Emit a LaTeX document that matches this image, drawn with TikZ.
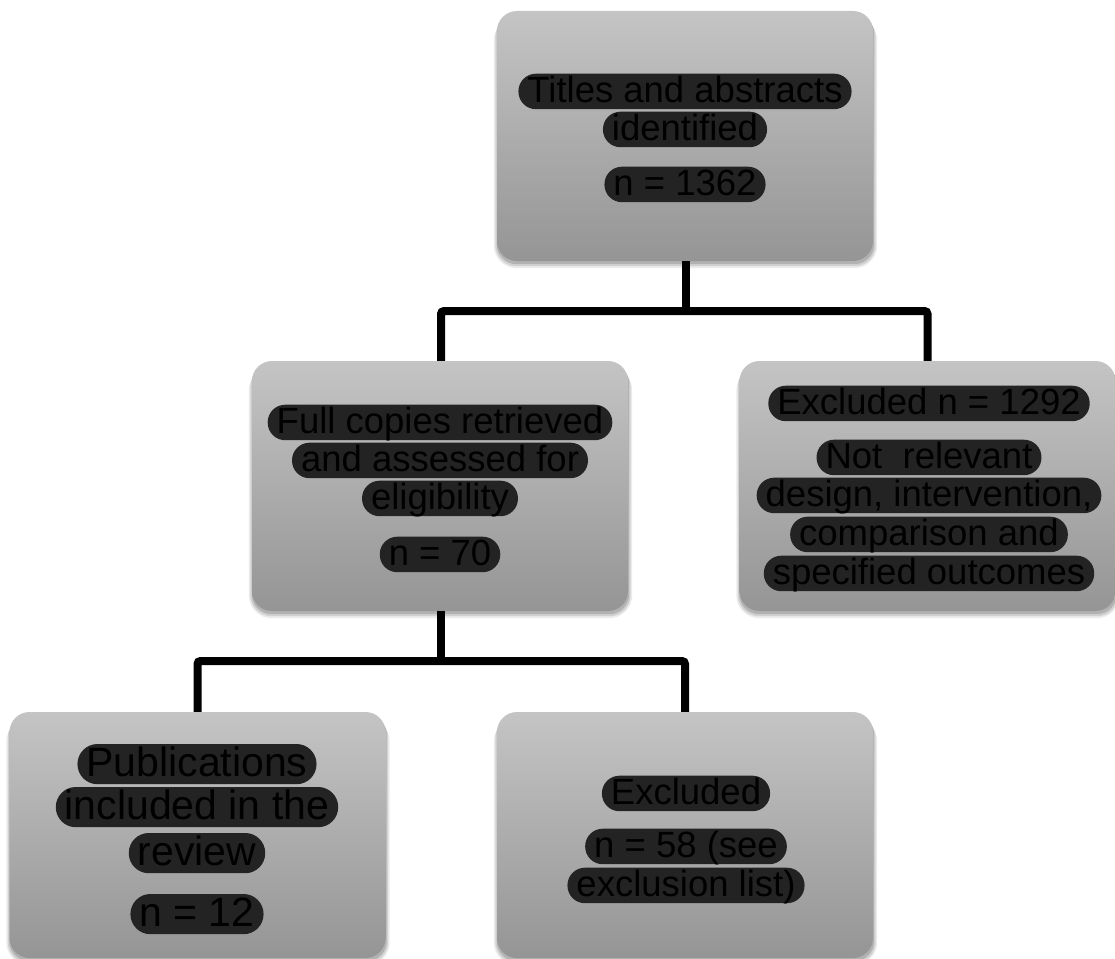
\documentclass[tikz,border=0pt]{standalone}
\usepackage{fontspec}
\setmainfont{Liberation Sans}
\pgfdeclarelayer{background}
\pgfdeclarelayer{foreground}
\pgfsetlayers{background,main,foreground}
\definecolor{boxtop}{HTML}{C4C4C4}
\definecolor{boxbot}{HTML}{959595}
\definecolor{hlc}{HTML}{232323}
\tikzset{
  box/.style={rounded corners=20pt, minimum width=376pt, minimum height=250pt,
    top color=boxtop, bottom color=boxbot, inner sep=0pt},
  hl/.style={fill=hlc, text=black, rounded corners=17.5pt, inner xsep=9pt, inner ysep=0pt,
    text height=28.3pt, text depth=7.2pt, anchor=base, font=\fontsize{36.5}{38}\selectfont},
  hlbig/.style={hl, rounded corners=20pt, text height=32pt, text depth=8.2pt,
    font=\fontsize{41}{44}\selectfont},
  conn/.style={line width=8pt, black, rounded corners=3pt}
}
\newcommand{\boxshadow}[1]{%
  \begin{pgfonlayer}{background}
    \fill[black!8, rounded corners=23pt] ([xshift=-3pt, yshift=-7pt]#1.north west) rectangle ([xshift=4pt, yshift=-7pt]#1.south east);
    \fill[black!18, rounded corners=21pt] ([xshift=-1.5pt, yshift=-5pt]#1.north west) rectangle ([xshift=2.5pt, yshift=-5pt]#1.south east);
    \fill[black!30, rounded corners=20pt] ([xshift=0pt, yshift=-3pt]#1.north west) rectangle ([xshift=1pt, yshift=-3pt]#1.south east);
  \end{pgfonlayer}%
}
\begin{document}
\begin{tikzpicture}[x=1pt,y=-1pt]
\useasboundingbox (0,0) rectangle (1115,958);
% boxes
\node[box] (top) at (685,136) {};
\node[box] (ml) at (440,486) {};
\node[box] (mr) at (927.5,486) {};
\node[box, minimum height=246pt] (bl) at (197.5,835) {};
\node[box, minimum height=246pt] (bm) at (685,835) {};
\boxshadow{top}\boxshadow{ml}\boxshadow{mr}\boxshadow{bl}\boxshadow{bm}
% top box text
\node[hl] (t1) at (685,102) {Titles and abstracts};
\node[hl] (t2) at (685,140) {identified};
\node[hl] (t3) at (685,195) {n = 1362};
% middle left
\node[hl] (l1) at (440,433) {Full copies retrieved};
\node[hl] (l2) at (440,471) {and assessed for};
\node[hl] (l3) at (440,509) {eligibility};
\node[hl] (l4) at (440,565) {n = 70};
% middle right
\node[hl] (r1) at (929,414) {Excluded n = 1292};
\node[hl] (r2) at (929,468) {Not\ \ relevant};
\node[hl] (r3) at (929,506) {design, intervention,};
\node[hl] (r4) at (929,545) {comparison and};
\node[hl] (r5) at (929,584) {specified outcomes};
% bottom left
\node[hlbig] (b1) at (197,776) {Publications};
\node[hlbig] (b2) at (197,819) {included in the};
\node[hlbig] (b3) at (197,865) {review};
\node[hlbig] (b4) at (197,926) {n = 12};
% bottom middle
\node[hl] (m1) at (686,804) {Excluded};
\node[hl] (m2) at (686,857) {n = 58 (see};
\node[hl] (m3) at (686,896) {exclusion list)};
% connectors
\coordinate (bus1) at (686,311);
\coordinate (bus2) at (441,661);
\begin{pgfonlayer}{foreground}
\draw[conn] (top.south -| bus1) -- (bus1);
\draw[conn] (ml.north -| bus2) |- (bus1) -| (mr.north);
\draw[conn] (ml.south -| bus2) -- (bus2);
\draw[conn] (bl.north) |- (bus2) -| (bm.north);
\end{pgfonlayer}
\end{tikzpicture}
\end{document}
